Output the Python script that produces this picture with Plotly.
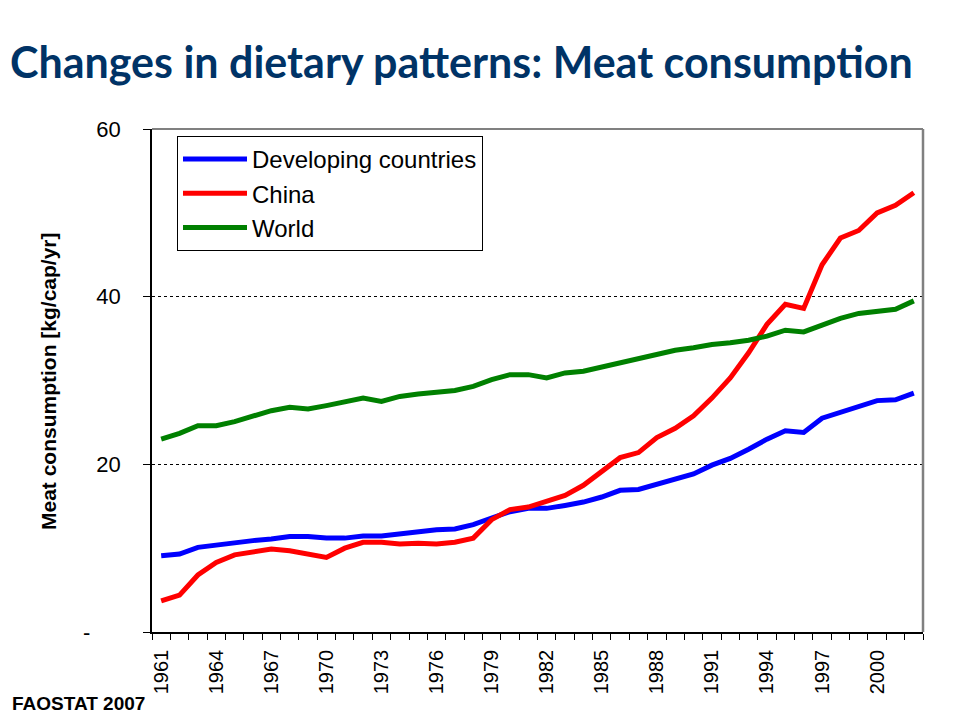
import plotly.graph_objects as go

years = list(range(1961, 2003))

developing = [9.1, 9.3, 10.1, 10.4, 10.7, 10.9, 11.1, 11.4, 11.4, 11.2,
              11.2, 11.45, 11.45, 11.7, 12.0, 12.2, 12.3, 12.8, 13.6, 14.35,
              14.75, 14.75, 15.1, 15.5, 16.1, 16.9, 17.0, 17.65, 18.2, 18.85,
              19.9, 20.7, 21.8, 23.0, 24.0, 23.8, 25.5, 26.2, 26.8, 27.6,
              27.7, 28.5]

china = [3.7, 4.4, 6.8, 8.3, 9.2, 9.5, 9.9, 9.7, 9.3, 8.9,
         10.0, 10.7, 10.7, 10.5, 10.6, 10.5, 10.7, 11.2, 13.4, 14.6,
         14.9, 15.6, 16.3, 17.5, 19.1, 20.8, 21.4, 23.2, 24.3, 25.8,
         27.9, 30.3, 33.3, 36.7, 39.1, 38.6, 43.8, 47.0, 47.9, 50.0,
         50.9, 52.4]

world = [23.0, 23.7, 24.6, 24.6, 25.1, 25.8, 26.4, 26.8, 26.6, 27.0,
         27.5, 27.9, 27.5, 28.1, 28.4, 28.6, 28.8, 29.3, 30.1, 30.7,
         30.7, 30.3, 30.9, 31.1, 31.6, 32.2, 32.7, 33.25, 33.6, 33.9,
         34.3, 34.5, 34.8, 35.3, 36.0, 35.8, 36.6, 37.4, 38.0, 38.3,
         38.5, 39.5]

x_tick_years = list(range(1961, 2001, 3))
y_tick_vals = [0, 20, 40, 60]
y_tick_text = ["-" + "\u00a0" * 5, "20", "40", "60"]

series = [
    ("Developing countries", developing, "#0000FF"),
    ("China", china, "#FF0000"),
    ("World", world, "#008000"),
]

FONT = "Liberation Sans, Arial, sans-serif"

fig = go.Figure()
for name, vals, color in series:
    fig.add_trace(go.Scatter(
        x=years, y=vals, name=name, mode="lines",
        line=dict(color=color, width=5),
    ))

# page offset of the plot div (body margin)
OFF = 8
L, R, T, B = 144, 45, 121, 96
PW = 960 - L - R
PH = 720 - T - B
PX0 = OFF + L          # page x of plot left
PY1 = OFF + T + PH     # page y of plot bottom


def px(xp):
    return (xp - PX0) / PW


def py(yp):
    return (PY1 - yp) / PH


fig.update_layout(
    width=960, height=720,
    margin=dict(l=L, r=R, t=T, b=B, autoexpand=False),
    paper_bgcolor="white", plot_bgcolor="white",
    font=dict(family=FONT, color="black", size=18),
    showlegend=True,
    legend=dict(
        x=px(177), y=py(136), xanchor="left", yanchor="top",
        bgcolor="white", bordercolor="black", borderwidth=1,
        font=dict(family=FONT, size=24, color="black"),
        itemwidth=64, tracegroupgap=0,
    ),
    title=dict(
        text="<b>Changes in dietary patterns: Meat consumption</b>",
        font=dict(family="Lato, Carlito, Calibri, sans-serif", size=43, color="#003366"),
        x=(10 - OFF) / 960, xanchor="left", xref="container",
        y=1 - (63 - OFF) / 720, yanchor="middle", yref="container",
    ),
)

fig.update_xaxes(
    range=[1960.5, 2002.5],
    tickmode="array", tickvals=x_tick_years,
    ticktext=[str(y) for y in x_tick_years],
    tickangle=-90, ticks="", ticklabelstandoff=8,
    tickfont=dict(family=FONT, size=20, color="black"),
    showgrid=False, zeroline=False,
    showline=True, linecolor="black", linewidth=1.5,
    minor=dict(ticks="outside", tick0=1960.5, dtick=1, ticklen=6,
               tickcolor="black", tickwidth=1, showgrid=False),
)
fig.update_yaxes(
    range=[0, 60],
    tickmode="array", tickvals=y_tick_vals, ticktext=y_tick_text,
    ticks="outside", ticklen=7, tickcolor="black", tickwidth=1,
    ticklabelstandoff=18,
    tickfont=dict(family=FONT, size=22, color="black"),
    showgrid=True, gridcolor="black", gridwidth=1, griddash="3px,3px",
    zeroline=False,
    showline=True, linecolor="black", linewidth=1.5,
)

# grey top and right frame of the plot area
fig.add_shape(type="line", xref="paper", yref="paper", x0=0, x1=1, y0=1, y1=1,
              line=dict(color="#808080", width=2), layer="above")
fig.add_shape(type="line", xref="paper", yref="paper", x0=1, x1=1, y0=0, y1=1,
              line=dict(color="#808080", width=2.5), layer="above")

fig.add_annotation(
    text="<b>Meat consumption [kg/cap/yr]</b>", textangle=-90,
    xref="paper", yref="paper", x=px(48), y=py(381),
    xanchor="center", yanchor="middle", showarrow=False,
    font=dict(family=FONT, size=21, color="black"),
)
fig.add_annotation(
    text="<b>FAOSTAT 2007</b>",
    xref="paper", yref="paper", x=px(10), y=py(703),
    xanchor="left", yanchor="middle", showarrow=False,
    font=dict(family=FONT, size=19, color="black"),
)

fig.write_html("out.html")
